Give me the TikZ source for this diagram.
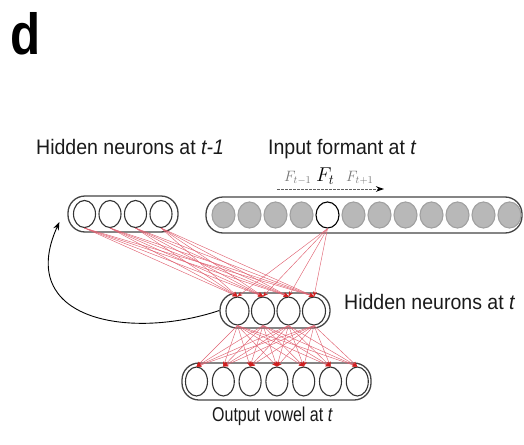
\RequirePackage{fix-cm}
\documentclass[tikz,border=0pt]{standalone}
\usepackage{fontspec}
\setmainfont{Liberation Sans}
\usetikzlibrary{shapes.geometric,arrows.meta}
\definecolor{boxgray}{HTML}{444444}
\definecolor{cgray}{HTML}{333333}
\definecolor{infill}{HTML}{B8B8B8}
\definecolor{inedge}{HTML}{A0A0A0}
\definecolor{synred}{HTML}{E06272}
\definecolor{tipred}{HTML}{D01E1E}
\definecolor{txt}{HTML}{1A1A1A}
\definecolor{fgray}{HTML}{777777}
\begin{document}
\begin{tikzpicture}[x=1pt,y=1pt,
  layer/.style={draw=boxgray, line width=1.3pt, rounded corners=17pt, inner sep=0pt, minimum height=36pt},
  neu/.style={ellipse, draw=cgray, line width=1.1pt, inner sep=0pt, minimum width=22pt, minimum height=27pt},
  inp/.style={neu, fill=infill, draw=inedge},
  syn/.style={draw=synred, line width=0.45pt, -{Stealth[length=5pt,width=4pt,color=tipred]}},
  lbl/.style={font=\fontsize{21}{24}\selectfont, xscale=0.93, inner sep=0pt, anchor=base west, text=txt},
  flbl/.style={inner sep=0pt, anchor=base west, text=fgray, font=\fontsize{15}{17}\selectfont},
]
\useasboundingbox (0,0) rectangle (524,-444);

% panel letter
\node[inner sep=0pt, anchor=base west, font=\fontsize{58}{58}\bfseries\selectfont, text=black, xscale=0.85] (panel) at (10,-55) {d};

% layer outlines
\node[layer, minimum width=110pt] (Lprev) at (123,-214) {};
\node[layer, minimum width=316pt] (Lin) at (364,-215) {};
\node[layer, minimum width=110pt, minimum height=35pt] (Lhid) at (275,-310.5) {};
\node[layer, minimum width=189pt, minimum height=37pt] (Lout) at (276.5,-381.5) {};

% neurons
\foreach \i in {1,...,4} \node[neu] (p\i) at ({84.5+25.5*(\i-1)},-214) {};
\foreach \i in {1,2,3,4,6,7,8,9,10,11,12} \node[inp, minimum width=23pt, minimum height=26pt] (f\i) at ({223.5+26*(\i-1)},-215) {};
\node[neu, minimum width=23pt, minimum height=26pt, draw=black] (f5) at (327.5,-215) {};
\foreach \i in {1,...,4} \node[neu, minimum width=23pt, minimum height=28pt] (h\i) at ({237.5+25.5*(\i-1)},-311) {};
\foreach \i in {1,...,7} \node[neu, minimum height=29pt] (o\i) at ({196.5+26.8*(\i-1)},-381.5) {};

% weighted connections
\foreach \i in {1,...,4}{\foreach \j in {1,...,4}{\draw[syn] (p\i.south) -- (h\j.north);}}
\foreach \j in {1,...,4}{\draw[syn] (f5.south) -- (h\j.north);}
\foreach \i in {1,...,4}{\foreach \j in {1,...,7}{\draw[syn] (h\i.south) -- (o\j.north);}}

% recurrent copy of the hidden layer
\coordinate (rin) at ([shift={(-8,-8)}]Lprev.west);
\draw[black, line width=0.9pt, -{Stealth[length=8pt,width=6pt]}] (Lhid.west) .. controls +(-90,-30) and (15,-320) .. (rin);

% time direction of the input window
\coordinate (da) at (277,-189);
\coordinate (db) at (384,-189);
\draw[draw=fgray!80!black, line width=1pt, dash pattern=on 2.5pt off 1.5pt, -{Stealth[length=8pt,width=5.5pt,color=black]}] (da) -- (db);
\node[flbl] (fprev) at (284,-181) {$F_{t-1}$};
\node[inner sep=0pt, anchor=base west, text=black, font=\fontsize{20}{22}\selectfont] (fcur) at (316,-181) {$F_t$};
\node[flbl] (fnext) at (346,-181) {$F_{t+1}$};

% labels
\node[lbl] (tprev) at (36,-154) {Hidden neurons at \textit{t-1}};
\node[lbl] (tin) at (268,-154) {Input formant at \textit{t}};
\node[lbl] (thid) at (344,-309) {Hidden neurons at \textit{t}};
\node[inner sep=0pt, anchor=base west, text=txt, font=\fontsize{20}{22}\selectfont, xscale=0.8] (tout) at (212,-421) {Output vowel at \textit{t}};
\end{tikzpicture}
\end{document}
